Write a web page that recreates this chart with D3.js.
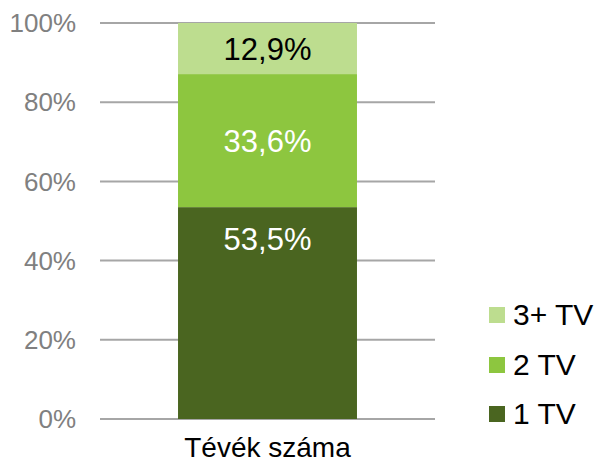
<!DOCTYPE html>
<html>
<head>
<meta charset="utf-8">
<script src="https://cdn.jsdelivr.net/npm/d3@7"></script>
<style>
  body { margin: 0; background: #fff; }
  text { font-family: "Liberation Sans", Arial, sans-serif; }
</style>
</head>
<body>
<svg id="chart" width="598" height="463"></svg>
<script>
// adatok
const categories = ["Tévék száma"];
const seriesNames = ["1 TV", "2 TV", "3+ TV"];
const seriesValues = [53.5, 33.6, 12.9];
const seriesColors = ["#4A6520", "#8DC63F", "#BDDD8F"];
const labelColors = ["#ffffff", "#ffffff", "#000000"];
const yTicks = [0, 20, 40, 60, 80, 100];

// címkék helye a szeleten belül (0 = teteje, 1 = alja)
const labelPos = [0.15, 0.5, 0.5];

const svg = d3.select("#chart");
const margin = { left: 100, right: 163, top: 23, bottom: 44 };
const W = 598, H = 463;

const x = d3.scaleBand()
  .domain(categories)
  .range([margin.left, W - margin.right])
  .paddingInner(0)
  .paddingOuter(0.436);

const y = d3.scaleLinear()
  .domain([0, 100])
  .range([H - margin.bottom, margin.top]);

// rácsvonalak
svg.append("g")
  .selectAll("line")
  .data(yTicks)
  .join("line")
  .attr("x1", margin.left)
  .attr("x2", W - margin.right)
  .attr("y1", d => y(d))
  .attr("y2", d => y(d))
  .attr("stroke", "#a6a6a6")
  .attr("stroke-width", 2);

// y tengely feliratai
svg.append("g")
  .selectAll("text")
  .data(yTicks)
  .join("text")
  .attr("x", 76)
  .attr("y", d => y(d))
  .attr("dy", "0.35em")
  .attr("text-anchor", "end")
  .attr("fill", "#808080")
  .attr("font-size", 26)
  .text(d => d + "%");

// halmozott oszlop
let acc = 0;
const stacked = seriesValues.map((v, i) => {
  const s = { name: seriesNames[i], v: v, y0: acc, y1: acc + v, i: i };
  acc += v;
  return s;
});

const bar = svg.append("g");
bar.selectAll("rect")
  .data(stacked)
  .join("rect")
  .attr("x", x(categories[0]))
  .attr("width", x.bandwidth())
  .attr("y", d => y(d.y1))
  .attr("height", d => y(d.y0) - y(d.y1))
  .attr("fill", d => seriesColors[d.i]);

bar.selectAll("text")
  .data(stacked)
  .join("text")
  .attr("x", x(categories[0]) + x.bandwidth() / 2)
  .attr("y", d => y(d.y1) + (y(d.y0) - y(d.y1)) * labelPos[d.i])
  .attr("dy", "0.36em")
  .attr("text-anchor", "middle")
  .attr("font-size", 31)
  .attr("fill", d => labelColors[d.i])
  .text(d => d3.format(".1f")(d.v).replace(".", ",") + "%");

// x tengely felirat
svg.append("g")
  .selectAll("text")
  .data(categories)
  .join("text")
  .attr("x", d => x(d) + x.bandwidth() / 2)
  .attr("y", 457)
  .attr("text-anchor", "middle")
  .attr("font-size", 28)
  .attr("fill", "#000")
  .text(d => d);

// jelmagyarázat
const legendY = [315, 365, 414];
const legend = svg.append("g")
  .selectAll("g")
  .data(stacked.slice().reverse())
  .join("g")
  .attr("transform", (d, k) => `translate(489,${legendY[k]})`);

legend.append("rect")
  .attr("x", 0)
  .attr("y", -8)
  .attr("width", 16)
  .attr("height", 16)
  .attr("fill", d => seriesColors[d.i]);

legend.append("text")
  .attr("x", 24)
  .attr("y", 0)
  .attr("dy", "0.34em")
  .attr("font-size", 30)
  .attr("fill", "#000")
  .text(d => d.name);
</script>
</body>
</html>
